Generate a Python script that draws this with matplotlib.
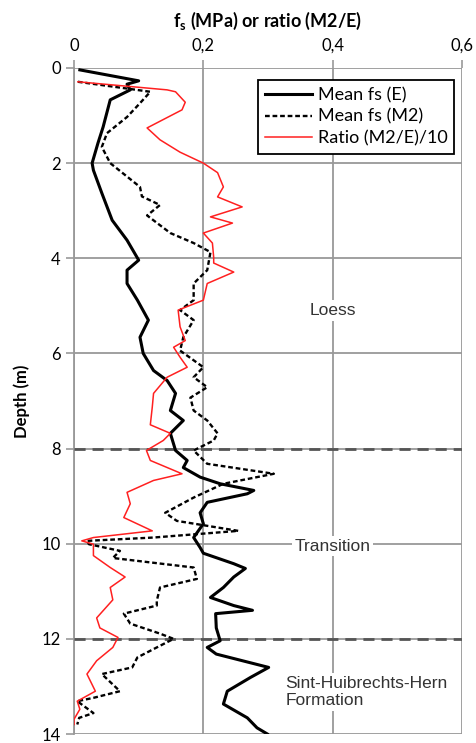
import matplotlib
matplotlib.use("Agg")
import matplotlib.pyplot as plt

plt.rcParams['font.family'] = ['Lato', 'DejaVu Sans']
plt.rcParams['mathtext.fontset'] = 'custom'
plt.rcParams['mathtext.rm'] = 'Lato'
plt.rcParams['mathtext.bf'] = 'Lato:bold'

# Mean fs (E)
depth_E = [0.04, 0.27, 0.34, 0.46, 0.67, 1.24, 1.58, 2.0, 2.15, 2.63, 3.2, 3.62, 4.04, 4.25, 4.53,
           4.88, 5.3, 5.66, 6.0, 6.36, 6.57, 6.84, 7.2, 7.41, 7.68, 8.04, 8.25, 8.4, 8.6, 8.74,
           8.88, 8.95, 9.13, 9.35, 9.58, 9.87, 10.08, 10.2, 10.42, 10.52, 10.7, 10.92, 11.13,
           11.3, 11.4, 11.47, 11.77, 12.04, 12.18, 12.32, 12.6, 12.81, 13.1, 13.37, 13.66, 13.87, 14.0]
fs_E = [0.009, 0.10, 0.082, 0.087, 0.056, 0.045, 0.037, 0.028, 0.030, 0.043, 0.059, 0.082, 0.10, 0.082, 0.082,
        0.098, 0.115, 0.102, 0.107, 0.123, 0.144, 0.157, 0.149, 0.169, 0.149, 0.157, 0.175, 0.169, 0.195, 0.226,
        0.278, 0.268, 0.206, 0.195, 0.20, 0.185, 0.195, 0.20, 0.247, 0.265, 0.247, 0.231, 0.211,
        0.247, 0.276, 0.219, 0.22, 0.226, 0.206, 0.22, 0.301, 0.273, 0.237, 0.231, 0.268, 0.283, 0.299]

# Mean fs (M2)
depth_M2 = [0.29, 0.5, 0.74, 1.03, 1.37, 1.66, 2.0, 2.5, 2.7, 2.88, 3.1, 3.47, 3.68, 3.87, 4.25, 4.53,
            4.88, 5.09, 5.3, 5.66, 5.94, 6.29, 6.5, 6.71, 6.93, 7.2, 7.41, 7.68, 7.83, 8.04, 8.32, 8.53,
            8.74, 9.03, 9.35, 9.52, 9.73, 9.87, 9.94, 10.01, 10.15, 10.3, 10.5, 10.74, 10.92, 11.2,
            11.3, 11.47, 11.68, 11.89, 12.0, 12.18, 12.39, 12.6, 12.74, 13.1, 13.24, 13.31, 13.56, 13.66, 13.8]
fs_M2 = [0.006, 0.118, 0.102, 0.082, 0.051, 0.043, 0.056, 0.102, 0.105, 0.133, 0.113, 0.149, 0.185, 0.211, 0.206, 0.185,
         0.185, 0.164, 0.185, 0.169, 0.164, 0.20, 0.185, 0.206, 0.18, 0.185, 0.206, 0.222, 0.216, 0.185, 0.206, 0.309,
         0.231, 0.185, 0.141, 0.159, 0.254, 0.123, 0.02, 0.023, 0.071, 0.06, 0.185, 0.19, 0.133, 0.128,
         0.128, 0.077, 0.087, 0.133, 0.154, 0.128, 0.098, 0.09, 0.043, 0.071, 0.03, 0.005, 0.03, 0.008, 0.005]

# Ratio (M2/E)/10
depth_R = [0.29, 0.46, 0.5, 0.72, 0.88, 1.26, 1.51, 1.77, 2.0, 2.2, 2.5, 2.71, 2.92, 3.13, 3.26, 3.47,
           3.68, 3.98, 4.1, 4.29, 4.53, 4.88, 5.09, 5.44, 5.73, 5.87, 6.08, 6.29, 6.5, 6.84, 7.13, 7.5,
           7.68, 7.83, 8.04, 8.25, 8.53, 8.67, 8.92, 9.16, 9.45, 9.73, 9.87, 9.94, 10.01, 10.25, 10.5,
           10.7, 10.92, 11.18, 11.56, 11.77, 11.97, 12.18, 12.46, 12.74, 13.1, 13.31, 13.48, 13.69, 13.8]
ratio = [0.006, 0.144, 0.157, 0.172, 0.167, 0.113, 0.133, 0.164, 0.20, 0.222, 0.231, 0.222, 0.26, 0.211, 0.245, 0.20,
         0.214, 0.216, 0.216, 0.247, 0.206, 0.20, 0.161, 0.164, 0.172, 0.154, 0.164, 0.175, 0.144, 0.123, 0.121, 0.118,
         0.149, 0.138, 0.112, 0.118, 0.167, 0.123, 0.082, 0.087, 0.077, 0.121, 0.03, 0.012, 0.03, 0.03, 0.056,
         0.079, 0.056, 0.06, 0.035, 0.04, 0.068, 0.06, 0.035, 0.02, 0.033, 0.005, 0.009, 0.0, 0.0]

x_ticks = [0, 0.2, 0.4, 0.6]
x_ticklabels = ["0", "0,2", "0,4", "0,6"]
y_ticks = [0, 2, 4, 6, 8, 10, 12, 14]
boundaries = [8, 12]

fig = plt.figure(figsize=(4.76, 7.43), dpi=100)
ax = fig.add_axes([0.1555, 0.0121, 0.8151, 0.8964])

ax.plot(fs_E, depth_E, color='black', lw=2.2, label='Mean fs (E)', zorder=4)
ax.plot(fs_M2, depth_M2, color='black', lw=1.7, ls=(0, (2.0, 1.2)), label='Mean fs (M2)', zorder=4)
ax.plot(ratio, depth_R, color='#ff2020', lw=1.1, label='Ratio (M2/E)/10', zorder=4)

for b in boundaries:
    ax.axhline(b, color='#555555', lw=2.0, ls=(0, (4, 2.5)), zorder=3)

ax.set_xlim(0, 0.6)
ax.set_ylim(14, 0)
ax.xaxis.tick_top()
ax.xaxis.set_label_position('top')
ax.set_xticks(x_ticks)
ax.set_xticklabels(x_ticklabels)
ax.set_yticks(y_ticks)
ax.tick_params(axis='both', labelsize=12, color='#999999', length=6, width=1.2, direction='out')
ax.tick_params(axis='x', pad=4)
ax.grid(True, color='#999999', lw=1.3, zorder=0)
ax.set_axisbelow(True)
for s in ['right', 'bottom', 'top']:
    ax.spines[s].set_visible(False)
ax.spines['left'].set_color('#999999')
ax.spines['left'].set_linewidth(1.3)

ax.set_xlabel(r"$\mathbf{f_s}$ (MPa) or ratio (M2/E)", fontsize=13, fontweight='bold', labelpad=8)
ax.set_ylabel("Depth (m)", fontsize=12, fontweight='bold', labelpad=8)

box = dict(facecolor='white', edgecolor='none', pad=2)
tcol = '#333333'
ax.text(0.40, 5.1, "Loess", fontsize=12.5, family='Liberation Sans', color=tcol,
        ha='center', va='center', bbox=box, zorder=3)
ax.text(0.40, 10.05, "Transition", fontsize=12.5, family='Liberation Sans', color=tcol,
        ha='center', va='center', bbox=box, zorder=3)
ax.text(0.327, 13.12, "Sint-Huibrechts-Hern\nFormation", fontsize=12.5, family='Liberation Sans',
        color=tcol, ha='left', va='center', linespacing=1.15, bbox=box, zorder=3)

leg = ax.legend(loc='upper left', bbox_to_anchor=(0.474, 0.982), fancybox=False, framealpha=1,
                edgecolor='black', fontsize=13, handlelength=2.6, handletextpad=0.3,
                borderpad=0.4, labelspacing=0.3, borderaxespad=0)
leg.get_frame().set_linewidth(1.3)
leg.set_zorder(5)

fig.savefig("out.png", dpi=100)
